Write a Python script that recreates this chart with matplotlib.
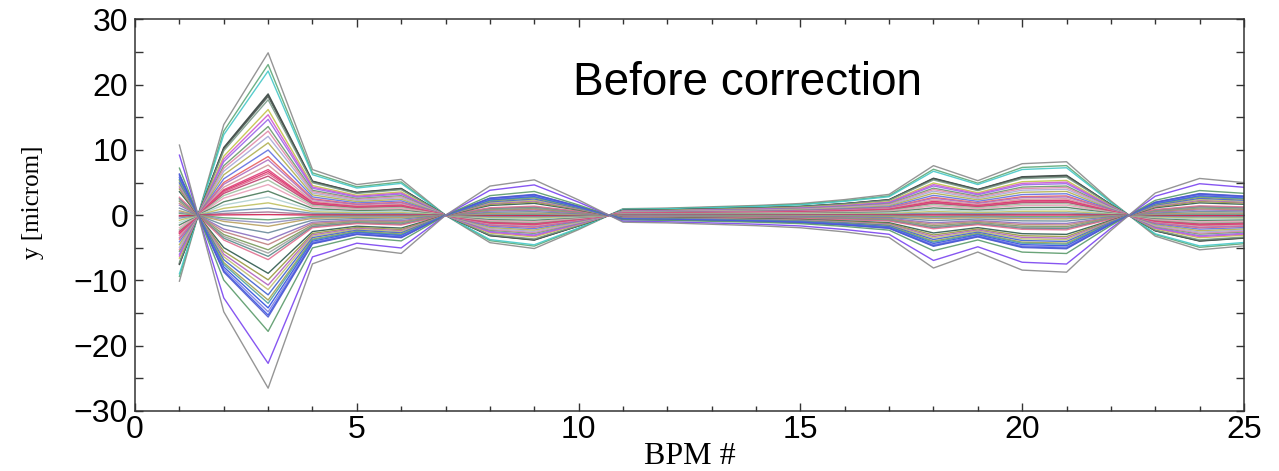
import numpy as np
import matplotlib.pyplot as plt
from matplotlib.ticker import MultipleLocator

# BPM index along the beamline
bpm = np.arange(1, 26)

# reference orbit shape (outermost trajectory, micron), one value per BPM
orbit_shape = np.array([-10.1, 13.9, 24.9, 7.0, 4.7, 5.5, 0.0, -4.2, -5.1, -2.2,
                        1.0, 1.1, 1.3, 1.5, 1.8, 2.4, 3.2, 7.6, 5.3, 7.9,
                        8.2, 2.2, -3.2, -5.3, -4.7])

# orbit amplitude of each trajectory at BPM 3 (micron)
peak_at_bpm3 = [24.9, 23.1, 22.1, 18.6, 18.4, 18.2, 17.7, 16.2, 15.4, 14.7,
                13.6, 12.9, 12.1, 11.1, 10.0, 9.0, 8.5, 7.7, 7.0, 6.7,
                6.4, 6.0, 5.4, 4.7, 3.7, 2.8, 1.9, 1.1, 0.5, 0.1,
                -0.7, -1.2, -1.7, -2.7, -3.8, -4.5, -5.3, -5.8, -6.3, -6.8,
                -8.9, -9.9, -10.7, -11.4, -12.2, -13.0, -13.5, -14.2, -14.8, -15.3,
                -15.6, -17.8, -22.7, -26.5]

line_colors = ['#8a8a8a', '#5fa878', '#45c8c8', '#3e4a46', '#3e4a46', '#55605a', '#7a9a88', '#c4c448', '#d058d0', '#9a68e8',
               '#6a9a6a', '#e08aa8', '#a8a8d8', '#b0b050', '#6070e0', '#e86060', '#b070c0', '#d09a9a', '#e0407a', '#d83068',
               '#e06088', '#c04070', '#a0c0a0', '#e8a0b8', '#4a7a5a', '#b0d0d0', '#c0c060', '#7090b0', '#a07090', '#d02050',
               '#60a070', '#9090c0', '#b8a060', '#6a8a9a', '#8a70c0', '#c08080', '#7a9a5a', '#a0a0a0', '#5a8a8a', '#e07090',
               '#2e5a4e', '#9a9a40', '#b060c0', '#c0c070', '#4060d0', '#a0a050', '#50a0a0', '#3050e0', '#8080e0', '#3a58e8',
               '#505ad0', '#5a9a6a', '#7a44f0', '#8a8a8a']

plt.rcParams['font.family'] = ['Liberation Sans', 'DejaVu Sans']

fig = plt.figure(figsize=(12.79, 4.71), dpi=100)
ax = fig.add_axes([0.1056, 0.1274, 0.8670, 0.8312])

for amp, col in zip(peak_at_bpm3, line_colors):
    ax.plot(bpm, amp / orbit_shape[2] * orbit_shape, color=col, lw=1.0, alpha=0.9)

ax.set_xlim(0, 25)
ax.set_ylim(-30, 30)
ax.xaxis.set_major_locator(MultipleLocator(5))
ax.xaxis.set_minor_locator(MultipleLocator(1))
ax.yaxis.set_major_locator(MultipleLocator(10))
ax.yaxis.set_minor_locator(MultipleLocator(5))
ax.tick_params(which='both', direction='in', top=True, right=True, width=1.0, color='#333333')
ax.tick_params(axis='x', which='major', length=5.5, labelsize=23, pad=3)
ax.tick_params(axis='x', which='minor', length=3.5)
ax.tick_params(axis='y', which='both', length=5.8)
ax.tick_params(axis='y', which='major', labelsize=23, pad=5)
for sp in ax.spines.values():
    sp.set_linewidth(1.1)
    sp.set_color('#333333')

ax.set_xlabel('BPM #', family='Liberation Serif', fontsize=23, va='baseline')
ax.xaxis.set_label_coords(0.5, -0.136)
ax.set_ylabel('y [microm]', family='Liberation Serif', fontsize=18, va='center', ha='center')
ax.yaxis.set_label_coords(-0.092, 0.534)

fig.text(573 / 1279, 1 - 95 / 471, 'Before correction', fontsize=33, ha='left', va='baseline')

fig.savefig('out.png', dpi=100)
